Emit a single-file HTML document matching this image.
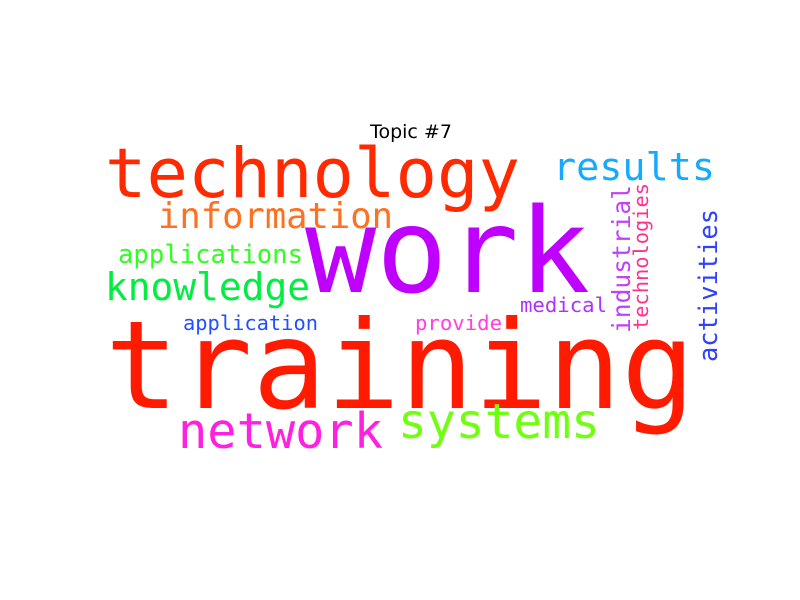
<!DOCTYPE html>
<html><head><meta charset="utf-8"><style>
html,body{margin:0;padding:0;background:#fff;}
svg{display:block;}
text{font-family:"DejaVu Sans Mono","Liberation Mono",monospace;}
</style></head><body>
<svg width="800" height="600" viewBox="0 0 800 600">
<rect width="800" height="600" fill="#fff"/>
<text x="411" y="138" text-anchor="middle" font-size="19" style="font-family:'DejaVu Sans','Liberation Sans',sans-serif" fill="#000">Topic #7</text>
<g id="words"></g>
</svg>
<script>
const words=["technology","work","training","results","information","applications","knowledge","application","provide","medical","network","systems","industrial","technologies","activities"];
const sizes=[69,118,122,38,35.5,25.6,38,20,20.6,20.6,48.6,48,25,20,25.4];
const colors=["#ff2a00","#c000ff","#ff1a00","#16aaff","#ff7020","#30ff20","#00ee40","#2050ff","#ff40e0","#b030ff","#ff20e0","#70ff10","#c040ff","#ff3090","#3040ff"];
const xs=[105,305,105,553,158,118,105,183,415,520,178,398,630,648,717];
const ys=[197,292,408,180,228,263,300,330,330,312,448,438,333,330,362];
const lens=[415,285,590,162,235,185,205,135,87,87,205,202,148,147,153];
const vert=[0,0,0,0,0,0,0,0,0,0,0,0,1,1,1];
const g=document.getElementById('words');
const NS='http://www.w3.org/2000/svg';
words.forEach((w,i)=>{
  const t=document.createElementNS(NS,'text');
  t.textContent=w;
  t.setAttribute('font-size',sizes[i]);
  t.setAttribute('fill',colors[i]);
  t.setAttribute('textLength',lens[i]);
  t.setAttribute('lengthAdjust','spacingAndGlyphs');
  if(vert[i]){
    t.setAttribute('x',0);t.setAttribute('y',0);
    t.setAttribute('transform','translate('+xs[i]+','+ys[i]+') rotate(-90)');
  }else{
    t.setAttribute('x',xs[i]);t.setAttribute('y',ys[i]);
  }
  
  
  g.appendChild(t);
});
</script>
</body></html>
